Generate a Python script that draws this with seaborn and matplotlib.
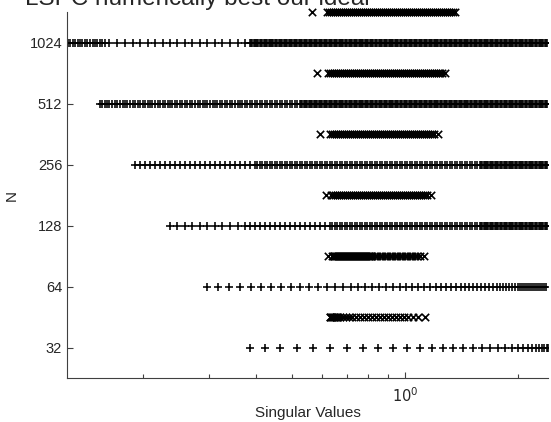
import numpy as np
import pandas as pd
import matplotlib
matplotlib.use("Agg")
import matplotlib.pyplot as plt
import seaborn as sns
from matplotlib.ticker import FixedLocator, NullFormatter, NullLocator

sns.set_theme(style="ticks")
plt.rcParams["font.family"] = ["Liberation Sans", "DejaVu Sans"]

# Problem sizes (one row per size)
sizes = [32, 64, 128, 256, 512, 1024]

# Singular values of the original matrices ("+" rows)
plus_32 = [0.386, 0.423, 0.464, 0.515, 0.568, 0.631, 0.700, 0.773, 0.847, 0.929,
           1.012, 1.096, 1.180, 1.263, 1.343, 1.428, 1.519, 1.605, 1.685, 1.770,
           1.847, 1.929, 2.001, 2.064, 2.128, 2.181, 2.235, 2.277, 2.319, 2.349,
           2.392, 2.406]

plus_64 = [0.297, 0.317, 0.339, 0.363, 0.389, 0.413, 0.439, 0.467, 0.497, 0.525,
           0.555, 0.586, 0.619, 0.651, 0.683, 0.718, 0.749, 0.782, 0.817, 0.853,
           0.890, 0.929, 0.970, 1.006, 1.044, 1.083, 1.123, 1.166, 1.209, 1.248,
           1.287, 1.326, 1.367, 1.411, 1.445, 1.481, 1.519, 1.556, 1.595, 1.634,
           1.675, 1.716, 1.760, 1.792, 1.825, 1.859, 1.894, 1.929, 1.965, 2.002,
           2.026, 2.051, 2.076, 2.102, 2.128, 2.154, 2.181, 2.208, 2.236, 2.263,
           2.291, 2.319, 2.348, 2.378]

plus_128 = [0.236, 0.247, 0.259, 0.271, 0.284, 0.297, 0.312, 0.326, 0.342, 0.358,
            0.374, 0.386, 0.398, 0.411, 0.423, 0.437, 0.450, 0.464, 0.479, 0.494,
            0.509, 0.525, 0.541, 0.558, 0.575, 0.593, 0.612,
            0.631, 0.641, 0.651, 0.661, 0.671, 0.681, 0.692, 0.703, 0.714, 0.725,
            0.736, 0.747, 0.759, 0.770, 0.782, 0.794, 0.807, 0.819, 0.832, 0.845,
            0.858, 0.871, 0.885, 0.898, 0.912, 0.926, 0.941, 0.955, 0.970, 0.985,
            1.000, 1.016, 1.031, 1.047, 1.063, 1.080, 1.097, 1.114, 1.131, 1.148,
            1.166, 1.184, 1.202, 1.221, 1.240, 1.259, 1.279, 1.299, 1.318, 1.339,
            1.360, 1.381, 1.402, 1.424, 1.445, 1.467, 1.491, 1.514, 1.537, 1.561,
            1.585, 1.610, 1.634, 1.659, 1.685, 1.711, 1.738, 1.765, 1.792, 1.820,
            1.848, 1.877, 1.905, 1.935, 1.965, 1.995, 2.026, 2.057, 2.089, 2.121,
            2.154, 2.187, 2.222, 2.256, 2.291, 2.327, 2.363, 2.399,
            1.597, 1.622, 1.647, 1.672, 1.698, 1.724, 1.751, 1.778, 1.806, 1.834,
            1.862, 1.891, 1.920, 1.949, 1.980, 2.011, 2.042, 2.073, 2.105, 2.138,
            2.171, 2.204, 2.239, 2.274, 2.309, 2.344, 2.381]

plus_256 = [0.191, 0.197, 0.203, 0.209, 0.215, 0.222, 0.229, 0.236, 0.244, 0.251,
            0.259, 0.267, 0.276, 0.284, 0.293, 0.302, 0.312, 0.321, 0.331, 0.342,
            0.352, 0.363, 0.374, 0.386, 0.398,
            0.404, 0.411, 0.417, 0.423, 0.430, 0.437, 0.443, 0.450, 0.457, 0.464,
            0.471, 0.479, 0.486, 0.494, 0.501, 0.509, 0.517, 0.525, 0.533, 0.541,
            0.550, 0.558, 0.567, 0.575, 0.584, 0.593, 0.603, 0.612, 0.621,
            0.631, 0.641, 0.651, 0.661, 0.671, 0.681, 0.692, 0.703, 0.714, 0.725,
            0.736, 0.747, 0.759, 0.770, 0.782, 0.794, 0.807, 0.819, 0.832, 0.845,
            0.858, 0.871, 0.885, 0.898, 0.912, 0.926, 0.941, 0.955, 0.970, 0.985,
            1.000, 1.016, 1.031, 1.047, 1.063, 1.080, 1.097, 1.114, 1.131, 1.148,
            1.166, 1.184, 1.202, 1.221, 1.240, 1.259, 1.279, 1.299, 1.318, 1.339,
            1.360, 1.381, 1.402, 1.424, 1.445, 1.467, 1.491, 1.514, 1.537, 1.561,
            1.585, 1.610, 1.634, 1.659, 1.685, 1.711, 1.738, 1.765, 1.792, 1.820,
            1.848, 1.877, 1.905, 1.935, 1.965, 1.995, 2.026, 2.057, 2.089, 2.121,
            2.154, 2.187, 2.222, 2.256, 2.291, 2.327, 2.363, 2.399,
            1.597, 1.622, 1.647, 1.672, 1.698, 1.724, 1.751, 1.778, 1.806, 1.834,
            1.862, 1.891, 1.920, 1.949, 1.980, 2.011, 2.042, 2.073, 2.105, 2.138,
            2.171, 2.204, 2.239, 2.274, 2.309, 2.344, 2.381]

plus_512 = [0.154, 0.156, 0.159, 0.161, 0.163, 0.166, 0.169, 0.171, 0.174, 0.177,
            0.179, 0.182, 0.185, 0.188, 0.191, 0.194, 0.197, 0.200, 0.203, 0.206,
            0.209, 0.212, 0.215, 0.219, 0.222, 0.226, 0.229, 0.233, 0.236, 0.240,
            0.244, 0.247, 0.251, 0.255, 0.259, 0.263, 0.267, 0.271, 0.276, 0.280,
            0.284, 0.289, 0.293, 0.297, 0.302, 0.307, 0.312, 0.316, 0.321, 0.326,
            0.331, 0.336, 0.342, 0.347, 0.352, 0.358, 0.363, 0.369, 0.374, 0.380,
            0.386, 0.392, 0.398, 0.404, 0.411, 0.417, 0.423, 0.430, 0.437, 0.443,
            0.450, 0.457, 0.464, 0.471, 0.479, 0.486, 0.494, 0.501, 0.509, 0.517,
            0.525, 0.533, 0.541, 0.550, 0.558, 0.567, 0.575, 0.584, 0.593, 0.603,
            0.612, 0.621, 0.631, 0.641, 0.651, 0.661, 0.671, 0.681, 0.692, 0.703,
            0.714, 0.725, 0.736, 0.747, 0.759, 0.770, 0.782, 0.794, 0.807, 0.819,
            0.832, 0.845, 0.858, 0.871, 0.885, 0.898, 0.912, 0.926, 0.941, 0.955,
            0.970, 0.985, 1.000, 1.016, 1.031, 1.047, 1.063, 1.080, 1.097, 1.114,
            1.131, 1.148, 1.166, 1.184, 1.202, 1.221, 1.240, 1.259, 1.279, 1.299,
            1.318, 1.339, 1.360, 1.381, 1.402, 1.424, 1.445, 1.467, 1.491, 1.514,
            1.537, 1.561, 1.585, 1.610, 1.634, 1.659, 1.685, 1.711, 1.738, 1.765,
            1.792, 1.820, 1.848, 1.877, 1.905, 1.935, 1.965, 1.995, 2.026, 2.057,
            2.089, 2.121, 2.154, 2.187, 2.222, 2.256, 2.291, 2.327, 2.363, 2.399,
            0.529, 0.537, 0.545, 0.554, 0.562, 0.571, 0.579, 0.589, 0.598, 0.608,
            0.617, 0.626, 0.636, 0.646, 0.656, 0.666, 0.676, 0.686, 0.697, 0.708,
            0.720, 0.731, 0.742, 0.753, 0.765, 0.776, 0.788, 0.800, 0.813, 0.825,
            0.838, 0.852, 0.865, 0.878, 0.892, 0.905, 0.919, 0.933, 0.948, 0.962,
            0.977, 0.993, 1.008, 1.024, 1.039, 1.055, 1.071, 1.088, 1.105, 1.123,
            1.140, 1.157, 1.175, 1.193, 1.211, 1.230, 1.250, 1.269, 1.289, 1.309,
            1.328, 1.349, 1.370, 1.392, 1.413, 1.435, 1.456, 1.478, 1.502, 1.526,
            1.549, 1.573,
            1.597, 1.622, 1.647, 1.672, 1.698, 1.724, 1.751, 1.778, 1.806, 1.834,
            1.862, 1.891, 1.920, 1.949, 1.980, 2.011, 2.042, 2.073, 2.105, 2.138,
            2.171, 2.204, 2.239, 2.274, 2.309, 2.344, 2.381]

plus_1024 = [0.126, 0.128, 0.130, 0.132, 0.134, 0.136, 0.138, 0.140, 0.142, 0.145,
             0.147, 0.149, 0.151, 0.154, 0.156, 0.159,
             0.163, 0.171, 0.179, 0.188, 0.197, 0.206, 0.215, 0.226, 0.236, 0.247,
             0.259, 0.271, 0.284, 0.297, 0.312, 0.326, 0.342, 0.358, 0.374,
             0.386, 0.392, 0.398, 0.404, 0.411, 0.417, 0.423, 0.430, 0.437, 0.443,
             0.450, 0.457, 0.464, 0.471, 0.479, 0.486, 0.494, 0.501, 0.509, 0.517,
             0.525, 0.533, 0.541, 0.550, 0.558, 0.567, 0.575, 0.584, 0.593, 0.603,
             0.612, 0.621, 0.631, 0.641, 0.651, 0.661, 0.671, 0.681, 0.692, 0.703,
             0.714, 0.725, 0.736, 0.747, 0.759, 0.770, 0.782, 0.794, 0.807, 0.819,
             0.832, 0.845, 0.858, 0.871, 0.885, 0.898, 0.912, 0.926, 0.941, 0.955,
             0.970, 0.985, 1.000, 1.016, 1.031, 1.047, 1.063, 1.080, 1.097, 1.114,
             1.131, 1.148, 1.166, 1.184, 1.202, 1.221, 1.240, 1.259, 1.279, 1.299,
             1.318, 1.339, 1.360, 1.381, 1.402, 1.424, 1.445, 1.467, 1.491, 1.514,
             1.537, 1.561, 1.585, 1.610, 1.634, 1.659, 1.685, 1.711, 1.738, 1.765,
             1.792, 1.820, 1.848, 1.877, 1.905, 1.935, 1.965, 1.995, 2.026, 2.057,
             2.089, 2.121, 2.154, 2.187, 2.222, 2.256, 2.291, 2.327, 2.363, 2.399,
             0.389, 0.395, 0.401, 0.407, 0.414, 0.420, 0.426, 0.433, 0.440, 0.446,
             0.453, 0.461, 0.468, 0.475, 0.483, 0.490, 0.498, 0.505, 0.513, 0.521,
             0.529, 0.537, 0.545, 0.554, 0.562, 0.571, 0.579, 0.589, 0.598, 0.608,
             0.617, 0.626, 0.636, 0.646, 0.656, 0.666, 0.676, 0.686, 0.697, 0.708,
             0.720, 0.731, 0.742, 0.753, 0.765, 0.776, 0.788, 0.800, 0.813, 0.825,
             0.838, 0.852, 0.865, 0.878, 0.892, 0.905, 0.919, 0.933, 0.948, 0.962,
             0.977, 0.993, 1.008, 1.024, 1.039, 1.055, 1.071, 1.088, 1.105, 1.123,
             1.140, 1.157, 1.175, 1.193, 1.211, 1.230, 1.250, 1.269, 1.289, 1.309,
             1.328, 1.349, 1.370, 1.392, 1.413, 1.435, 1.456, 1.478, 1.502, 1.526,
             1.549, 1.573,
             1.597, 1.622, 1.647, 1.672, 1.698, 1.724, 1.751, 1.778, 1.806, 1.834,
             1.862, 1.891, 1.920, 1.949, 1.980, 2.011, 2.042, 2.073, 2.105, 2.138,
             2.171, 2.204, 2.239, 2.274, 2.309, 2.344, 2.381]

# Singular values after preconditioning ("x" rows)
cross_32 = [0.631, 0.633, 0.635, 0.639, 0.643, 0.647, 0.651, 0.654, 0.658, 0.662,
            0.671, 0.683, 0.696, 0.709, 0.722, 0.740, 0.759, 0.778, 0.798, 0.817,
            0.837, 0.858, 0.879, 0.901, 0.923, 0.946, 0.970, 0.994, 1.019, 1.050,
            1.083, 1.130]

cross_64 = [0.623,
            0.639, 0.643, 0.647, 0.651, 0.655, 0.659, 0.663, 0.667, 0.671, 0.675,
            0.679, 0.683, 0.688, 0.692, 0.696, 0.700, 0.705, 0.709, 0.714, 0.718,
            0.722, 0.727, 0.731, 0.736, 0.740, 0.745, 0.749, 0.754, 0.759, 0.763,
            0.768, 0.773, 0.778, 0.782, 0.787, 0.792, 0.797, 0.802, 0.807, 0.812,
            0.817,
            0.832, 0.845, 0.858, 0.871, 0.885, 0.898, 0.912, 0.926, 0.941, 0.955,
            0.970, 0.985, 1.000, 1.016, 1.031, 1.047, 1.063, 1.080, 1.097, 1.127]

cross_128 = [0.616,
             0.635, 0.643, 0.651, 0.659, 0.667, 0.675, 0.683, 0.692, 0.700, 0.709,
             0.718, 0.727, 0.736, 0.745, 0.754, 0.763, 0.773, 0.782, 0.792, 0.802,
             0.812, 0.822, 0.832, 0.842, 0.853, 0.863, 0.874, 0.885, 0.895, 0.907,
             0.918, 0.929, 0.941, 0.952, 0.964, 0.976, 0.988, 1.000, 1.012, 1.025,
             1.038, 1.050, 1.063, 1.077, 1.090, 1.103, 1.117, 1.131, 1.145,
             1.173]

cross_256 = [0.593,
             0.631, 0.639, 0.647, 0.655, 0.663, 0.671, 0.679, 0.688, 0.696, 0.705,
             0.714, 0.722, 0.731, 0.740, 0.749, 0.759, 0.768, 0.778, 0.787, 0.797,
             0.807, 0.817, 0.827, 0.837, 0.847, 0.858, 0.868, 0.879, 0.890, 0.901,
             0.912, 0.923, 0.935, 0.946, 0.958, 0.970, 0.982, 0.994, 1.006, 1.019,
             1.031, 1.044, 1.057, 1.070, 1.083, 1.097, 1.110, 1.124, 1.138, 1.152,
             1.166, 1.181, 1.195,
             1.225]

cross_512 = [0.583,
             0.623, 0.631, 0.639, 0.647, 0.655, 0.663, 0.671, 0.679, 0.688, 0.696,
             0.705, 0.714, 0.722, 0.731, 0.740, 0.749, 0.759, 0.768, 0.778, 0.787,
             0.797, 0.807, 0.817, 0.827, 0.837, 0.847, 0.858, 0.868, 0.879, 0.890,
             0.901, 0.912, 0.923, 0.935, 0.946, 0.958, 0.970, 0.982, 0.994, 1.006,
             1.019, 1.031, 1.044, 1.057, 1.070, 1.083, 1.097, 1.110, 1.124, 1.138,
             1.152, 1.166, 1.181, 1.195, 1.210, 1.225, 1.240, 1.255,
             1.279]

cross_1024 = [0.565,
              0.620, 0.627, 0.635, 0.643, 0.651, 0.659, 0.667, 0.675, 0.683, 0.692,
              0.700, 0.709, 0.718, 0.727, 0.736, 0.745, 0.754, 0.763, 0.773, 0.782,
              0.792, 0.802, 0.812, 0.822, 0.832, 0.842, 0.853, 0.863, 0.874, 0.885,
              0.895, 0.907, 0.918, 0.929, 0.941, 0.952, 0.964, 0.976, 0.988, 1.000,
              1.012, 1.025, 1.038, 1.050, 1.063, 1.077, 1.090, 1.103, 1.117, 1.131,
              1.145, 1.159, 1.173, 1.188, 1.203, 1.217, 1.233, 1.248, 1.263, 1.279,
              1.295, 1.311, 1.327, 1.343, 1.360]

plus_rows = [plus_32, plus_64, plus_128, plus_256, plus_512, plus_1024]
cross_rows = [cross_32, cross_64, cross_128, cross_256, cross_512, cross_1024]

# The "x" rows sit half an octave above their N row
row_shift = np.sqrt(2)

df_plus = pd.DataFrame(
    [(v, n) for n, vals in zip(sizes, plus_rows) for v in vals],
    columns=["sv", "N"])
df_cross = pd.DataFrame(
    [(v, n, n * row_shift) for n, vals in zip(sizes, cross_rows) for v in vals],
    columns=["sv", "N", "row"])

W, H = 551, 422
fig = plt.figure(figsize=(W / 100, H / 100), dpi=100)
ax = fig.add_axes([67 / W, 44 / H, (548 - 67) / W, (378 - 12) / H])

sns.scatterplot(data=df_plus, x="sv", y="N", marker="+", color="black",
                s=40, linewidth=1.15, ax=ax, legend=False)
sns.scatterplot(data=df_cross, x="sv", y="row", marker="x", color="black",
                s=28, linewidth=1.2, ax=ax, legend=False, clip_on=False)

ax.set_xscale("log")
ax.set_yscale("log", base=2)
ax.set_xlim(0.1256, 2.41)
ax.set_ylim(32 / row_shift, 1024 * row_shift)

ax.yaxis.set_major_locator(FixedLocator(sizes))
ax.set_yticklabels([str(n) for n in sizes])
ax.yaxis.set_minor_locator(NullLocator())

ax.xaxis.set_major_locator(FixedLocator([1.0]))
ax.set_xticklabels([r"$10^{0}$"])
ax.xaxis.set_minor_locator(FixedLocator([0.2, 0.3, 0.4, 0.5, 0.6, 0.7, 0.8, 0.9, 2.0]))
ax.xaxis.set_minor_formatter(NullFormatter())

axis_color = "#404040"
ax.tick_params(which="both", direction="in", colors=axis_color, width=0.8,
               labelsize=10.5, labelcolor="#262626")
ax.tick_params(which="major", length=4.5)
ax.tick_params(which="minor", length=3)
ax.tick_params(axis="x", which="major", pad=6)
for side in ["left", "bottom"]:
    ax.spines[side].set_color(axis_color)
    ax.spines[side].set_linewidth(0.8)
sns.despine(ax=ax)

ax.set_xlabel("Singular Values", fontsize=11, color="#262626", labelpad=1)
ax.set_ylabel("N", fontsize=11, color="#262626", labelpad=8)

fig.text(25 / W, 1 - 5 / H, "LSPC numerically best our ideal", fontsize=17.5,
         color="#262626", ha="left", va="baseline")

fig.savefig("out.png", dpi=100, facecolor="white")
